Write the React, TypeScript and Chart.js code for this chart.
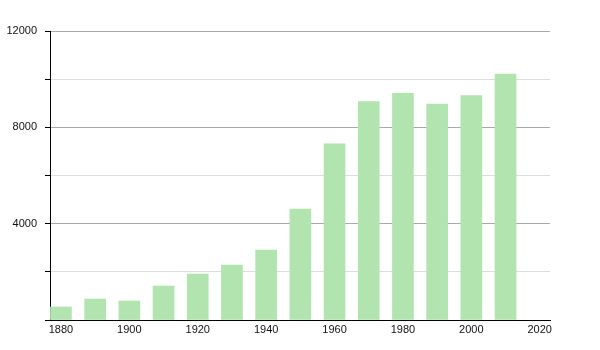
import React, { useEffect, useRef } from "react";
import { Chart, registerables } from "chart.js";

Chart.register(...registerables);

const years = [1880, 1890, 1900, 1910, 1920, 1930, 1940, 1950, 1960, 1970, 1980, 1990, 2000, 2010];
const population = [540, 870, 790, 1410, 1910, 2280, 2900, 4610, 7310, 9065, 9414, 8970, 9315, 10216];
const xTickLabels = [1880, 1900, 1920, 1940, 1960, 1980, 2000, 2020];
const yTicks = [0, 2000, 4000, 6000, 8000, 10000, 12000];
const yTickLabels = [4000, 8000, 12000];

const FONT = "'Liberation Sans', Arial, Helvetica, sans-serif";

export default function App() {
  const ref = useRef<HTMLCanvasElement | null>(null);
  useEffect(() => {
    if (!ref.current) return;
    const chart = new Chart(ref.current, {
      type: "bar",
      data: {
        datasets: [
          {
            data: years.map((y, i) => ({ x: y, y: population[i] })),
            backgroundColor: "rgb(178,228,176)",
            borderWidth: 0,
            barThickness: 21,
          },
        ],
      },
      options: {
        animation: false,
        responsive: false,
        maintainAspectRatio: false,
        layout: { padding: { left: 0, right: 50, top: 31, bottom: 0 } },
        plugins: { legend: { display: false }, tooltip: { enabled: false } },
        scales: {
          x: {
            type: "linear",
            offset: false,
            min: 1876.8,
            max: 2023,
            afterBuildTicks: (s: any) => {
              s.ticks = xTickLabels.map((v) => ({ value: v }));
            },
            afterFit: (s: any) => {
              s.height = 30;
            },
            grid: { display: false, drawTicks: false, offset: false },
            border: { display: true, color: "#000", width: 1 },
            ticks: {
              padding: 3,
              color: "#111",
              font: { family: FONT, size: 11 },
              maxRotation: 0,
              autoSkip: false,
              callback: (v: any) => String(v),
            },
          },
          y: {
            min: 0,
            max: 12000,
            afterBuildTicks: (s: any) => {
              s.ticks = yTicks.map((v) => ({ value: v }));
            },
            afterFit: (s: any) => {
              s.width = 50;
            },
            grid: {
              color: (ctx: any) =>
                ctx.tick && ctx.tick.value % 4000 === 0 ? "#aaaaaa" : "#dddddd",
              tickColor: "#000",
              tickLength: 5,
              drawTicks: true,
            },
            border: { display: true, color: "#000", width: 1 },
            ticks: {
              padding: 8,
              color: "#111",
              font: { family: FONT, size: 11 },
              callback: (v: any) => (yTickLabels.includes(v) ? String(v) : ""),
            },
          },
        },
      },
    });
    return () => chart.destroy();
  }, []);
  return (
    <div style={{ position: "absolute", left: 0, top: 0, width: 600, height: 350, background: "#fff" }}>
      <canvas ref={ref} width={600} height={350} style={{ width: 600, height: 350 }} />
    </div>
  );
}
